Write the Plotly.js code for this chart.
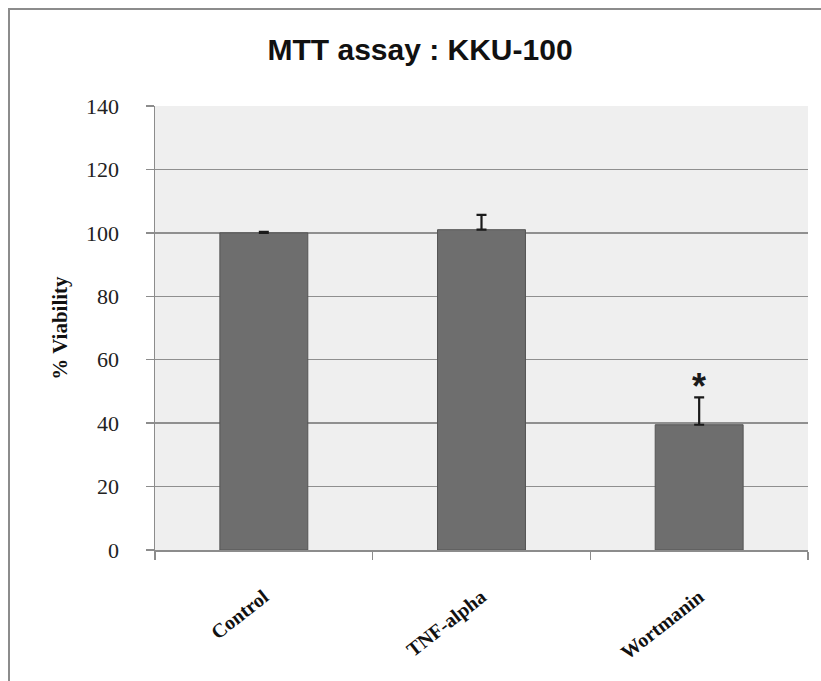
<!DOCTYPE html>
<html>
<head>
<meta charset="utf-8">
<script src="https://cdn.plot.ly/plotly-3.0.1.min.js"></script>
<style>
  html, body { margin: 0; padding: 0; background: #ffffff; }
  #wrap { position: relative; width: 821px; height: 681px; overflow: hidden; }
  #chart { position: absolute; left: 0; top: 0; width: 821px; height: 681px; }
  #frame { position: absolute; left: 8px; top: 8px; width: 900px; height: 900px;
           border-left: 2px solid #8c8c8c; border-top: 2px solid #8c8c8c; pointer-events: none; }
</style>
</head>
<body>
<div id="wrap">
  <div id="chart"></div>
  <div id="frame"></div>
</div>
<script>
// ---- data ----
const categories = ["Control", "TNF-alpha", "Wortmanin"];
const viability = [100, 101, 39.5];
const errorPlus = [0.3, 4.7, 8.6];
const significance = ["", "", "*"];
const yTickValues = [0, 20, 40, 60, 80, 100, 120, 140];

const trace = {
  type: "bar",
  x: categories,
  y: viability,
  marker: { color: "#6e6e6e", line: { color: "#555555", width: 1 } },
  error_y: {
    type: "data",
    symmetric: false,
    array: errorPlus,
    arrayminus: errorPlus.map(() => 0),
    color: "#1a1a1a",
    thickness: 2.2,
    width: 5
  },
  hoverinfo: "none"
};

const annotations = categories
  .map((c, i) => ({ c, i }))
  .filter(o => significance[o.i])
  .map(o => ({
    x: o.c,
    y: viability[o.i] + errorPlus[o.i],
    xref: "x", yref: "y",
    text: significance[o.i],
    showarrow: false,
    yanchor: "bottom",
    yshift: -12,
    font: { family: "Liberation Sans, Arial, sans-serif", size: 36, color: "#1a1a1a", weight: "bold" }
  }));

const layout = {
  width: 821,
  height: 681,
  margin: { l: 155, r: 13, t: 106, b: 131, pad: 0 },
  paper_bgcolor: "#ffffff",
  plot_bgcolor: "#efefef",
  showlegend: false,
  bargap: 0.596,
  title: {
    text: "MTT assay : KKU-100",
    x: 0.5116, xanchor: "center", xref: "container",
    y: 0.928, yanchor: "middle", yref: "container",
    font: { family: "Liberation Sans, Arial, sans-serif", size: 30, color: "#111111", weight: "bold" }
  },
  xaxis: {
    type: "category",
    showline: true, linecolor: "#8c8c8c", linewidth: 1.5,
    ticks: "outside", tickson: "boundaries", ticklen: 8, tickcolor: "#8c8c8c", tickwidth: 1.5,
    tickangle: -38,
    ticklabelstandoff: 26,
    tickfont: { family: "Liberation Serif, Times New Roman, serif", size: 20, color: "#111111", weight: "bold" },
    showgrid: false,
    fixedrange: true
  },
  yaxis: {
    range: [0, 140],
    tickvals: yTickValues,
    ticktext: yTickValues.map(String),
    showline: true, linecolor: "#8c8c8c", linewidth: 1.5,
    ticks: "outside", ticklen: 8, tickcolor: "#8c8c8c", tickwidth: 1.5,
    ticklabelstandoff: 22,
    tickfont: { family: "Liberation Serif, Times New Roman, serif", size: 22, color: "#222222" },
    showgrid: true, gridcolor: "#8f8f8f", gridwidth: 1.5,
    zeroline: false,
    title: {
      text: "% Viability",
      standoff: 12,
      font: { family: "Liberation Serif, Times New Roman, serif", size: 21, color: "#111111", weight: "bold" }
    },
    fixedrange: true
  },
  annotations: annotations
};

Plotly.newPlot("chart", [trace], layout, { displayModeBar: false, staticPlot: true });
</script>
</body>
</html>
